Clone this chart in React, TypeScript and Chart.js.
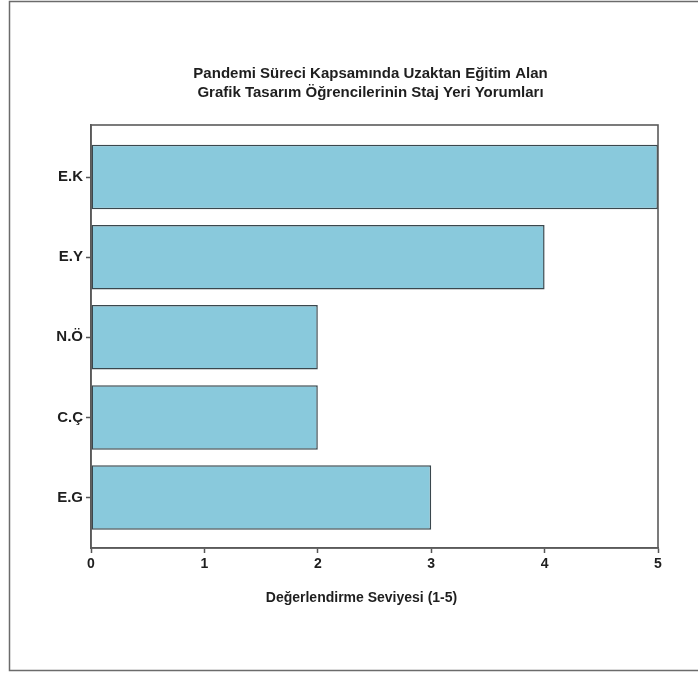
import React, { useEffect, useRef } from "react";
import { Chart, registerables } from "chart.js";

Chart.register(...registerables);

const categories = ["E.K", "E.Y", "N.Ö", "C.Ç", "E.G"];
const values = [5, 4, 2, 2, 3];
const xTickValues = [0, 1, 2, 3, 4, 5];
const titleLines = [
  "Pandemi Süreci Kapsamında Uzaktan Eğitim Alan",
  "Grafik Tasarım Öğrencilerinin Staj Yeri Yorumları",
];
const xAxisTitle = "Değerlendirme Seviyesi (1-5)";

const FONT = "'Liberation Sans', Arial, Helvetica, sans-serif";

export default function App() {
  const ref = useRef<HTMLCanvasElement | null>(null);

  useEffect(() => {
    if (!ref.current) return;

    const decor = {
      id: "decor",
      afterDraw(chart: any) {
        const { ctx, chartArea, width, height } = chart;
        ctx.save();
        // outer frame
        ctx.strokeStyle = "#6b6b6b";
        ctx.lineWidth = 1.5;
        ctx.beginPath();
        ctx.moveTo(width, 1.5);
        ctx.lineTo(9.5, 1.5);
        ctx.lineTo(9.5, height - 2.5);
        ctx.lineTo(width, height - 2.5);
        ctx.stroke();
        // plot frame
        ctx.strokeStyle = "#5a5a5a";
        ctx.lineWidth = 1.6;
        ctx.strokeRect(
          chartArea.left,
          chartArea.top,
          chartArea.right - chartArea.left,
          chartArea.bottom - chartArea.top
        );
        // titles
        const cx = (chartArea.left + chartArea.right) / 2;
        ctx.fillStyle = "#1e1e1e";
        ctx.textAlign = "center";
        ctx.textBaseline = "middle";
        ctx.font = `bold 15px ${FONT}`;
        ctx.fillText(titleLines[0], cx - 4, chartArea.top - 51);
        ctx.fillText(titleLines[1], cx - 4, chartArea.top - 32);
        ctx.font = `bold 14px ${FONT}`;
        ctx.fillText(xAxisTitle, cx - 13, chartArea.bottom + 50);
        ctx.restore();
      },
    };

    const chart = new Chart(ref.current, {
      type: "bar",
      data: {
        datasets: [
          {
            data: values.map((v, i) => ({ x: v, y: i })),
            backgroundColor: "#89C9DC",
            borderColor: "#3a474d",
            borderWidth: 1.5,
            borderSkipped: false,
            categoryPercentage: 1,
            barPercentage: 0.805,
          },
        ],
      },
      options: {
        indexAxis: "y",
        animation: false,
        responsive: false,
        devicePixelRatio: 1,
        layout: { padding: { top: 125, right: 40, left: 0, bottom: 0 } },
        plugins: {
          legend: { display: false },
          tooltip: { enabled: false },
          title: { display: false },
        },
        scales: {
          x: {
            type: "linear",
            min: 0,
            max: 5,
            offset: false,
            afterBuildTicks: (scale: any) => {
              scale.ticks = xTickValues.map((v) => ({ value: v }));
            },
            ticks: {
              stepSize: 1,
              autoSkip: false,
              color: "#1e1e1e",
              font: { family: FONT, size: 14, weight: "bold" },
              padding: 3,
            },
            grid: {
              offset: false,
              drawOnChartArea: false,
              drawTicks: true,
              tickLength: 5,
              tickColor: "#555",
              tickWidth: 1.5,
            },
            border: { display: true, color: "#5a5a5a", width: 1.6 },
            afterFit: (scale: any) => {
              scale.height = 125;
            },
          },
          y: {
            type: "linear",
            reverse: true,
            min: -0.65,
            max: 4.63,
            offset: false,
            afterBuildTicks: (scale: any) => {
              scale.ticks = categories.map((_, i) => ({ value: i }));
            },
            ticks: {
              autoSkip: false,
              color: "#1e1e1e",
              font: { family: FONT, size: 15, weight: "bold" },
              padding: 3,
              callback: (v: any) => categories[v as number] ?? "",
            },
            grid: {
              offset: false,
              drawOnChartArea: false,
              drawTicks: true,
              tickLength: 5,
              tickColor: "#555",
              tickWidth: 1.5,
            },
            border: { display: true, color: "#5a5a5a", width: 1.6 },
            afterFit: (scale: any) => {
              scale.width = 91;
            },
          },
        },
      },
      plugins: [decor],
    });

    return () => chart.destroy();
  }, []);

  return (
    <div style={{ position: "absolute", left: 0, top: 0, width: 698, height: 673, background: "#fff" }}>
      <canvas ref={ref} width={698} height={673} style={{ display: "block" }} />
    </div>
  );
}
